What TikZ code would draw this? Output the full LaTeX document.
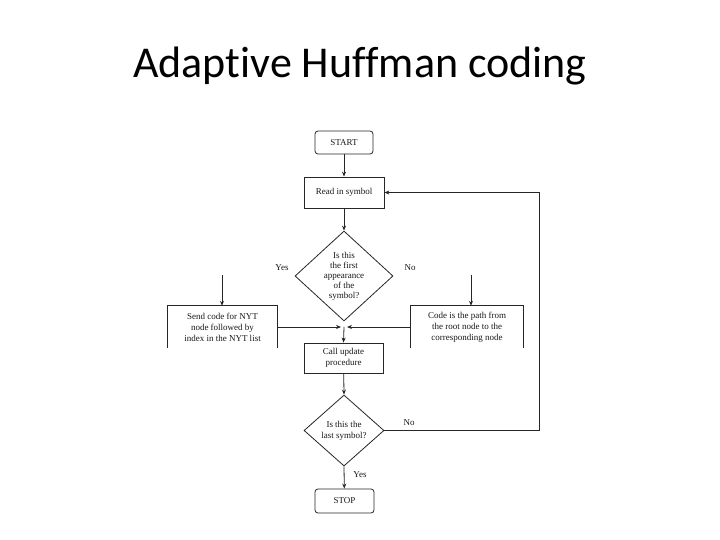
\documentclass[tikz,border=0pt]{standalone}
\usepackage{fontspec}
\setmainfont{Liberation Serif}
\newfontfamily\titlefont[Ligatures=NoCommon]{Carlito}
\usetikzlibrary{arrows.meta,shapes.geometric}
\begin{document}
\begin{tikzpicture}[x=1pt,y=-1pt,
  ln/.style={draw=black!85,line width=0.8pt},
  arr/.style={ln,-{Stealth[length=5pt,width=4pt]}},
  txt/.style={font=\fontsize{9}{11}\selectfont,align=center,inner sep=0pt,text=black!90},
  dtxt/.style={font=\fontsize{9}{10}\selectfont,align=center,inner sep=0pt,text=black!90},
  boxx/.style={ln,rectangle,inner sep=0pt},
  rbox/.style={ln,rectangle,rounded corners=3pt,inner sep=0pt},
  dia/.style={ln,diamond,inner sep=0pt},
  lbl/.style={font=\fontsize{9}{11}\selectfont,inner sep=0pt,text=black!90}]
\fill[white] (0,0) rectangle (720,540);
\useasboundingbox (0,0) rectangle (720,540);
\node (title) [anchor=base,font=\titlefont\fontsize{44}{50}\selectfont,inner sep=0pt] at (360,78) {Adaptive Huffman coding};

\node (start) [rbox,minimum width=58pt,minimum height=23pt] at (344,142.5) {};
\node (startt) [txt] at (start.center) {START};
\node (read) [boxx,minimum width=80pt,minimum height=31pt] at (344,192.5) {};
\node (readt) [txt] at (read.center) {Read in symbol};
\node (d1) [dia,minimum width=98pt,minimum height=90pt] at (344,276) {};
\node (d1t) [dtxt] at (d1.center) {Is this\\the first\\appearance\\of the\\symbol?};
\node (yes1) [lbl] at (282,268) {Yes};
\node (no1) [lbl] at (410,268) {No};

\node (nyt) [inner sep=0pt,minimum width=109pt,minimum height=42pt] at (222.5,327) {};
\draw[ln] (nyt.south west) -- (nyt.north west) -- (nyt.north east) -- (nyt.south east);
\node (nytt) [txt] at (nyt.center) {Send code for NYT\\node followed by\\index in the NYT list};
\node (code) [inner sep=0pt,minimum width=112pt,minimum height=42pt] at (467,327) {};
\draw[ln] (code.south west) -- (code.north west) -- (code.north east) -- (code.south east);
\node (codet) [txt] at (code.center) {Code is the path from\\the root node to the\\corresponding node};

\node (upd) [boxx,minimum width=79pt,minimum height=30pt] at (343.5,358) {};
\node (updt) [txt] at (upd.center) {Call update\\procedure};
\node (d2) [dia,minimum width=80pt,minimum height=71pt] at (344,430.5) {};
\node (d2t) [txt] at (d2.center) {Is this the\\last symbol?};
\node (no2) [lbl] at (409,423) {No};
\node (yes2) [lbl] at (360,475) {Yes};
\node (stop) [rbox,minimum width=59pt,minimum height=24pt] at (344.5,501) {};
\node (stopt) [txt] at (stop.center) {STOP};

\coordinate (yesend) at (222,275);
\coordinate (noend) at (471,275);
\coordinate (jn) at (344,327);
\coordinate (jl) at (341,327);
\coordinate (jr) at (347,327);
\coordinate (loop) at (539,192.5);

\draw[arr] (start) -- (read);
\draw[arr] (read) -- (d1.north);
\draw[arr] (yesend) -- (yesend |- nyt.north);
\draw[arr] (noend) -- (noend |- code.north);
\draw[arr] (nyt.east) -- (jl);
\draw[arr] (code.west) -- (jr);
\draw[arr] (jn) -- (upd.north);
\draw[arr] (upd) -- (d2.north);
\draw[arr] (d2.south) -- (stop);
\draw[arr] (d2.east) -| (loop) -- (read.east);
\end{tikzpicture}
\end{document}
